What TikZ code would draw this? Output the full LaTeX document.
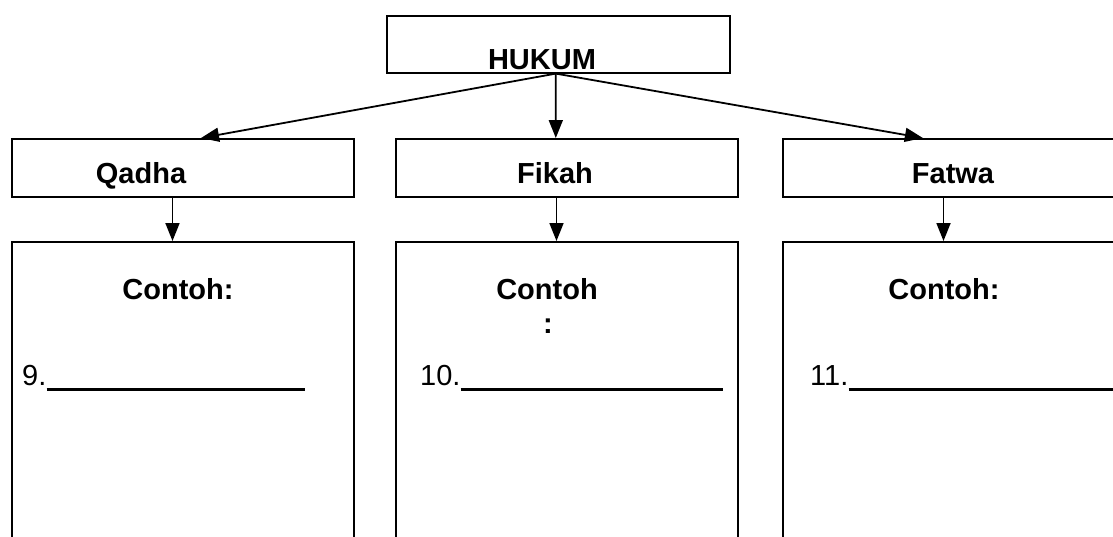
\documentclass[tikz,border=0pt]{standalone}
\usepackage{fontspec}
\setmainfont{Liberation Sans}
\usetikzlibrary{calc,arrows.meta,positioning}

\begin{document}
\begin{tikzpicture}[x=1pt,y=-1pt,
    box/.style={draw,line width=1.6pt,minimum width=342pt,inner sep=0pt,anchor=north west},
    head/.style={font=\fontsize{29}{33}\selectfont\bfseries,inner sep=0pt,anchor=base},
    num/.style={font=\fontsize{29}{33}\selectfont,inner sep=0pt,anchor=base west},
    link/.style={line width=1.8pt,-{Triangle[width=14pt,length=18pt]}}]
    \useasboundingbox (0,0) rectangle (1113,536);
    \clip (0,0) rectangle (1113,536);
    % boxes
    \node[box,minimum width=343pt,minimum height=57pt] (hukum) at (386,15) {};
    \node[box,minimum height=58pt] (qadha) at (11,138) {};
    \node[box,minimum height=58pt] (fikah) at (395,138) {};
    \node[box,minimum height=58pt] (fatwa) at (782,138) {};
    \node[box,minimum height=330pt] (cqadha) at (11,241) {};
    \node[box,minimum height=330pt] (cfikah) at (395,241) {};
    \node[box,minimum height=330pt] (cfatwa) at (782,241) {};
    \coordinate (top) at ($(hukum.south)+(-2.5,0)$);
    % texts
    \node[head] (thukum) at (542,69) {HUKUM};
    \node[head] (tqadha) at (141,183) {Qadha};
    \node[head] (tfikah) at (555,183) {Fikah};
    \node[head] (tfatwa) at (953,183) {Fatwa};
    \node[head] (cq) at (178,299) {Contoh:};
    \node[head] (cf) at (547,299) {Contoh};
    \node[head] (cfcolon) at (548,333) {:};
    \node[head] (cw) at (944,299) {Contoh:};
    \node[num] (n9) at (22,385) {9.};
    \node[num] (n10) at (420,385) {10.};
    \node[num] (n11) at (810,385) {11.};
    % blanks
    \draw[line width=3pt] (n9.base east) ++(0,4) -- ++(258,0);
    \draw[line width=3pt] (n10.base east) ++(0,4) -- ++(262,0);
    \draw[line width=3pt] (n11.base east) ++(0,4) -- ++(280,0);
    % arrows
    \draw[link] (top) -- ($(qadha.north west)!0.553!(qadha.north east)$);
    \draw[link] (top) -- ($(fikah.north west)!0.468!(fikah.north east)$);
    \draw[link] (top) -- ($(fatwa.north west)!0.41!(fatwa.north east)$);
    \foreach \a/\b in {qadha/cqadha,fikah/cfikah,fatwa/cfatwa}
        \draw[link] ($(\a.south west)!0.47!(\a.south east)$) -- ($(\b.north west)!0.47!(\b.north east)$);
\end{tikzpicture}
\end{document}
